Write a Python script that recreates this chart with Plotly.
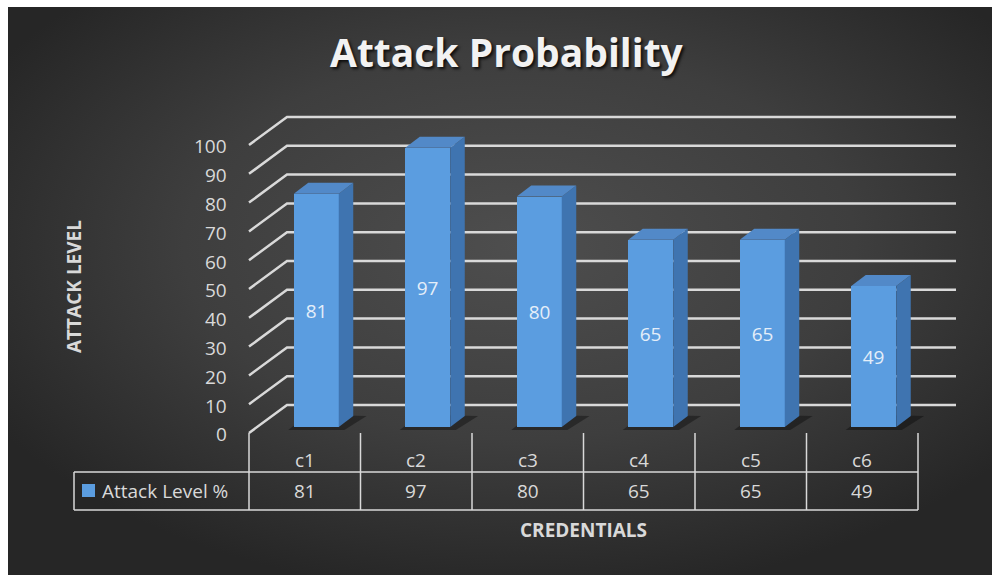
import base64
import plotly.graph_objects as go

# ---------------- data ----------------
categories = ["c1", "c2", "c3", "c4", "c5", "c6"]
attack_level = [81, 97, 80, 65, 65, 49]
series_name = "Attack Level %"
y_ticks = [0, 10, 20, 30, 40, 50, 60, 70, 80, 90, 100]
chart_title = "Attack Probability"
y_title = "ATTACK LEVEL"
x_title = "CREDENTIALS"

# ---------------- style / projection constants ----------------
W, H = 995, 575
PX_CAT = 111.5          # pixels per category
PX_VAL = 2.88           # pixels per value unit
X0_PX, Y0_PX = 249, 433  # front-left floor corner in pixels
X_RANGE = [-0.5 - X0_PX / PX_CAT, -0.5 - X0_PX / PX_CAT + W / PX_CAT]
Y_RANGE = [(Y0_PX - H) / PX_VAL, Y0_PX / PX_VAL]

DEPTH_DX = 38 / PX_CAT   # floor depth vector
DEPTH_DY = 28 / PX_VAL
BAR_FX = 11.5 / PX_CAT   # bar front face offset
BAR_FY = 6 / PX_VAL
BAR_DX = 14.5 / PX_CAT   # bar depth
BAR_DY = 11 / PX_VAL
BAR_W = 45 / PX_CAT

GRID = "#d9d9d9"
TXT = "#d9d9d9"
FRONT = "#5b9de0"
SIDE = "#3f74b0"
TOP = "#5289c8"
FONT = "Open Sans"


def px_to_val(p):
    return (Y0_PX - p) / PX_VAL


def px_to_cat(p):
    return -0.5 + (p - X0_PX) / PX_CAT


n = len(categories)
x_left = -0.5
x_right = n - 0.5

# ---------------- background (radial gradient) ----------------
svg = (
    "<svg xmlns='http://www.w3.org/2000/svg' width='984' height='568' preserveAspectRatio='none'>"
    "<defs><radialGradient id='g' cx='52%' cy='42%' r='62%'>"
    "<stop offset='0' stop-color='#4e4e4e'/><stop offset='0.55' stop-color='#3e3e3e'/>"
    "<stop offset='1' stop-color='#262626'/></radialGradient></defs>"
    "<rect width='100%' height='100%' fill='url(#g)'/></svg>"
)
bg_src = "data:image/svg+xml;base64," + base64.b64encode(svg.encode()).decode()

fig = go.Figure()

shapes = []
# gridlines on back wall + side diagonals
for v in y_ticks:
    path = (f"M {x_left},{v} L {x_left + DEPTH_DX},{v + DEPTH_DY} "
            f"L {x_right + DEPTH_DX},{v + DEPTH_DY}")
    shapes.append(dict(type="path", path=path, xref="x", yref="y", layer="below",
                       line=dict(color=GRID, width=2.5)))

# bar shadows on the floor
for i, v in enumerate(attack_level):
    xl = i + BAR_FX - BAR_W / 2
    xr = xl + BAR_W
    b = BAR_FY
    path = (f"M {xl - 0.05},{b - 1.0} L {xr + 0.05},{b - 1.0} L {xr + BAR_DX + 0.12},{b + BAR_DY} "
            f"L {xl + BAR_DX},{b + BAR_DY + 0.5} Z")
    shapes.append(dict(type="path", path=path, xref="x", yref="y", layer="below",
                       fillcolor="rgba(0,0,0,0.35)", line=dict(width=0)))

# data table lines
row1 = px_to_val(472)
row2 = px_to_val(510)
leg_left = px_to_cat(74)
tbl_line = dict(color=GRID, width=1.5)
shapes.append(dict(type="line", xref="x", yref="y", x0=leg_left, x1=x_right, y0=row1, y1=row1, line=tbl_line))
shapes.append(dict(type="line", xref="x", yref="y", x0=leg_left, x1=x_right, y0=row2, y1=row2, line=tbl_line))
shapes.append(dict(type="line", xref="x", yref="y", x0=leg_left, x1=leg_left, y0=row1, y1=row2, line=tbl_line))
for k in range(n + 1):
    xb = -0.5 + k
    shapes.append(dict(type="line", xref="x", yref="y", x0=xb, x1=xb, y0=0, y1=row2, line=tbl_line))
# legend key in table
shapes.append(dict(type="rect", xref="x", yref="y",
                   x0=px_to_cat(82), x1=px_to_cat(95), y0=px_to_val(484), y1=px_to_val(497),
                   fillcolor=FRONT, line=dict(width=0)))

# ---------------- bars (front faces) ----------------
fig.add_trace(go.Bar(
    x=[i + BAR_FX for i in range(n)], y=attack_level, base=BAR_FY, width=BAR_W,
    marker=dict(color=FRONT, line=dict(width=0)),
    text=[str(v) for v in attack_level], textposition="inside", insidetextanchor="middle",
    textangle=0, constraintext="none",
    textfont=dict(family=FONT, size=19, color="#e4eef9"),
    name=series_name, showlegend=False, hoverinfo="skip",
))

# side and top faces
for i, v in enumerate(attack_level):
    xl = i + BAR_FX - BAR_W / 2
    xr = xl + BAR_W
    b = BAR_FY
    t = b + v
    fig.add_trace(go.Scatter(
        x=[xr, xr + BAR_DX, xr + BAR_DX, xr, xr], y=[b, b + BAR_DY, t + BAR_DY, t, b],
        fill="toself", fillcolor=SIDE, mode="lines", line=dict(width=0),
        showlegend=False, hoverinfo="skip"))
    fig.add_trace(go.Scatter(
        x=[xl, xl + BAR_DX, xr + BAR_DX, xr, xl], y=[t, t + BAR_DY, t + BAR_DY, t, t],
        fill="toself", fillcolor=TOP, mode="lines", line=dict(width=0),
        showlegend=False, hoverinfo="skip"))

annotations = []
# y tick labels
for v in y_ticks:
    annotations.append(dict(x=px_to_cat(229), y=v - 0.5, xref="x", yref="y", text=str(v),
                            showarrow=False, xanchor="right", yanchor="middle",
                            font=dict(family=FONT, size=19, color=TXT)))
# table: category row and values row
for i, (c, v) in enumerate(zip(categories, attack_level)):
    annotations.append(dict(x=i, y=px_to_val(460), xref="x", yref="y", text=c, showarrow=False,
                            xanchor="center", yanchor="middle",
                            font=dict(family=FONT, size=19, color=TXT)))
    annotations.append(dict(x=i, y=px_to_val(491), xref="x", yref="y", text=str(v), showarrow=False,
                            xanchor="center", yanchor="middle",
                            font=dict(family=FONT, size=19, color=TXT)))
annotations.append(dict(x=px_to_cat(100), y=px_to_val(491), xref="x", yref="y", text=series_name,
                        showarrow=False, xanchor="left", yanchor="middle",
                        font=dict(family=FONT, size=19, color=TXT)))
# titles
annotations.append(dict(x=507 / W, y=1 - 52 / H, xref="paper", yref="paper", text=f"<b>{chart_title}</b>",
                        showarrow=False, xanchor="center", yanchor="middle",
                        font=dict(family=FONT, size=39, color="#f2f2f2",
                                  shadow="2px 2px 3px rgba(0,0,0,0.8)")))
annotations.append(dict(x=74 / W, y=1 - 287 / H, xref="paper", yref="paper", text=f"<b>{y_title}</b>",
                        showarrow=False, textangle=-90, xanchor="center", yanchor="middle",
                        font=dict(family=FONT, size=19, color=TXT)))
annotations.append(dict(x=583 / W, y=1 - 530 / H, xref="paper", yref="paper", text=f"<b>{x_title}</b>",
                        showarrow=False, xanchor="center", yanchor="middle",
                        font=dict(family=FONT, size=19, color=TXT)))

fig.update_layout(
    width=W, height=H, margin=dict(l=0, r=0, t=0, b=0),
    paper_bgcolor="white", plot_bgcolor="rgba(0,0,0,0)",
    xaxis=dict(range=X_RANGE, visible=False, fixedrange=True, domain=[0, 1]),
    yaxis=dict(range=Y_RANGE, visible=False, fixedrange=True, domain=[0, 1]),
    shapes=shapes, annotations=annotations, showlegend=False,
    images=[dict(source=bg_src, xref="paper", yref="paper", x=8 / W, y=1 - 7 / H,
                 sizex=(W - 11) / W, sizey=(H - 7) / H, xanchor="left", yanchor="top",
                 sizing="stretch", layer="below")],
    bargap=0,
)

fig.write_html("out.html")
